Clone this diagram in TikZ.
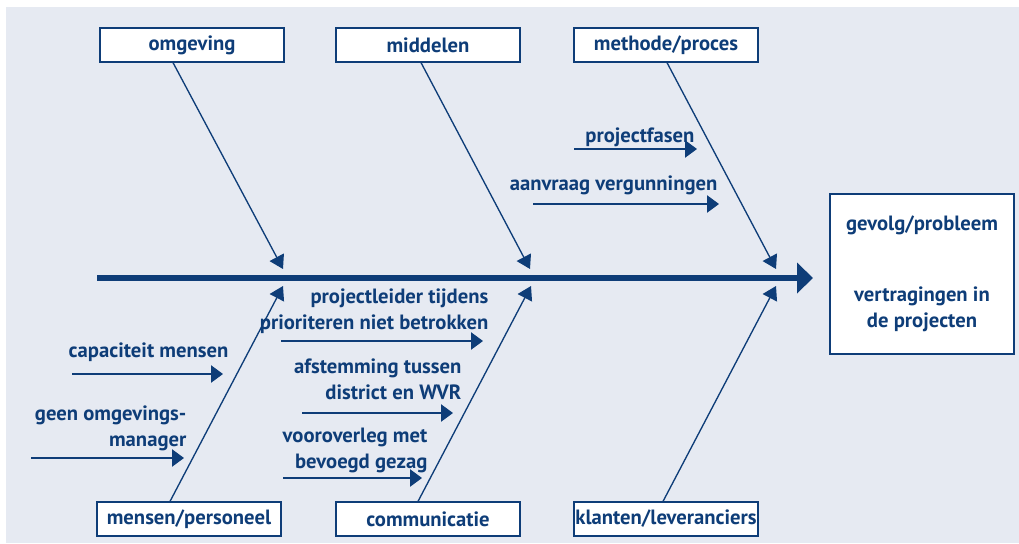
\documentclass[tikz,border=0pt]{standalone}
\usepackage{fontspec}
\setmainfont{PT Sans}
\usetikzlibrary{arrows.meta}
\definecolor{visblauw}{HTML}{0E3D78}
\definecolor{achtergrond}{HTML}{E6EAF2}

\begin{document}
\begin{tikzpicture}[x=0.75pt,y=-0.75pt,line width=1pt,
  font=\fontsize{15.5}{19.5}\selectfont\bfseries,text=visblauw,
  categorie/.style={draw=visblauw,fill=white,line width=0.9pt,minimum width=138pt,minimum height=25.5pt,inner sep=0pt},
  oorzaak/.style={anchor=base east,align=right,inner sep=0pt},
  graat/.style={draw=visblauw,-{Triangle[length=10pt,width=12pt]}},
  pijltje/.style={draw=visblauw,-{Triangle[length=9pt,width=13pt]}}]
  \useasboundingbox (0,0) rectangle (1019,543);
  \fill[achtergrond] (6,7) rectangle (1019,543);
  % hoofdgraat
  \coordinate (staart) at (97,278);
  \coordinate (punt) at (813,278);
  \draw[visblauw,line width=4pt,-{Triangle[length=12pt,width=22.5pt]}] (staart) -- (punt);
  \node[draw=visblauw,fill=white,line width=0.9pt,minimum width=138pt,minimum height=120pt,align=center] (gevolg) at (922,274)
    {gevolg/probleem\\[34pt]vertragingen in\\de projecten};
  % categorieen
  \node[categorie] (omgeving) at (192,45) {omgeving};
  \node[categorie] (middelen) at (428,45) {middelen};
  \node[categorie] (methode) at (666,45) {methode/proces};
  \node[categorie] (mensen) at (189,519) {mensen/personeel};
  \node[categorie] (communicatie) at (428,519) {communicatie};
  \node[categorie] (klanten) at (666,519) {klanten/leveranciers};
  \coordinate (k1) at (283,269);
  \coordinate (k2) at (530,269);
  \coordinate (k3) at (776,269);
  \coordinate (k4) at (283,286);
  \coordinate (k5) at (531,286);
  \coordinate (k6) at (776,286);
  \draw[graat] ([xshift=-14.25pt]omgeving.south) -- (k1);
  \draw[graat] ([xshift=-5.25pt]middelen.south) -- (k2);
  \draw[graat] ([xshift=0.75pt]methode.south) -- (k3);
  \draw[graat] ([xshift=-14.25pt]mensen.north) -- (k4);
  \draw[graat] ([xshift=-7.5pt]communicatie.north) -- (k5);
  \draw[graat] ([xshift=-2.25pt]klanten.north) -- (k6);
  % oorzaken
  \node[oorzaak] (fasen) at (695,142) {projectfasen};
  \coordinate (a1) at (574,149);
  \coordinate (b1) at (697,149);
  \draw[pijltje] (a1) -- (b1);
  \node[oorzaak] (vergunningen) at (718,190) {aanvraag vergunningen};
  \coordinate (a2) at (533,204);
  \coordinate (b2) at (719,204);
  \draw[pijltje] (a2) -- (b2);
  \node[oorzaak] (projectleider) at (489,329) {projectleider tijdens\\prioriteren niet betrokken};
  \coordinate (a3) at (281,341);
  \coordinate (b3) at (483,341);
  \draw[pijltje] (a3) -- (b3);
  \node[oorzaak] (capaciteit) at (229,357) {capaciteit mensen};
  \coordinate (a4) at (72,374);
  \coordinate (b4) at (223,374);
  \draw[pijltje] (a4) -- (b4);
  \node[oorzaak] (manager) at (187,446) {geen omgevings-\\manager};
  \coordinate (a5) at (31,458);
  \coordinate (b5) at (184,458);
  \draw[pijltje] (a5) -- (b5);
  \node[oorzaak] (afstemming) at (462,399) {afstemming tussen\\district en WVR};
  \coordinate (a6) at (302,413);
  \coordinate (b6) at (453,413);
  \draw[pijltje] (a6) -- (b6);
  \node[oorzaak] (vooroverleg) at (428,468) {vooroverleg met\\bevoegd gezag};
  \coordinate (a7) at (283,478);
  \coordinate (b7) at (422,478);
  \draw[pijltje] (a7) -- (b7);
\end{tikzpicture}
\end{document}
